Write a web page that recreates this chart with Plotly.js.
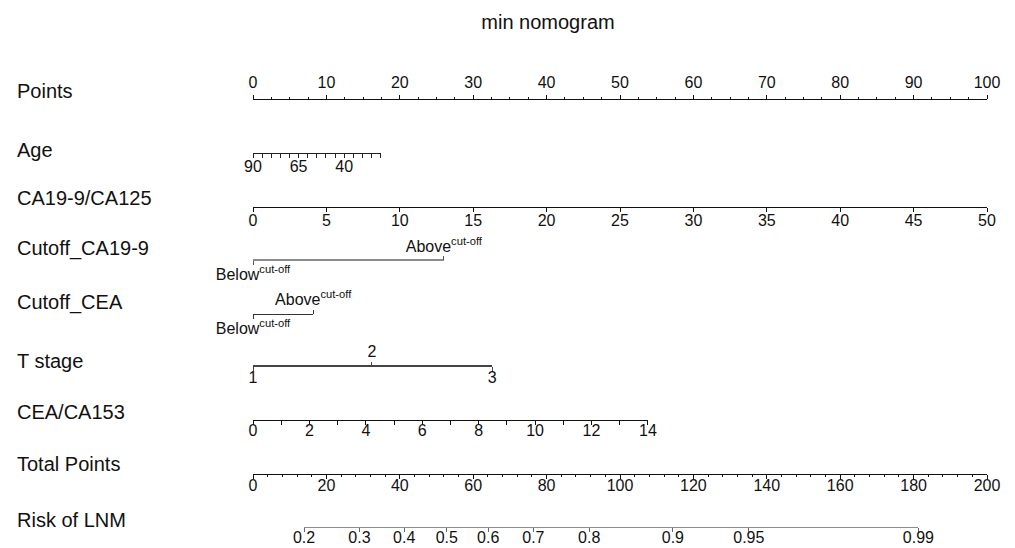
<!DOCTYPE html>
<html>
<head>
<meta charset="utf-8">
<script src="https://cdn.plot.ly/plotly-3.0.1.min.js"></script>
<style>html,body{margin:0;padding:0;background:#fff;}#chart{width:1015px;height:548px;}</style>
</head>
<body>
<div id="chart"></div>
<script>
// ---------------- data ----------------
const rowNames = ['Points','Age','CA19-9/CA125','Cutoff_CA19-9','Cutoff_CEA','T stage','CEA/CA153','Total Points','Risk of LNM'];

const pointsTickVals = [0,10,20,30,40,50,60,70,80,90,100];

const ageRange = [90, 20];            // age values at the two ends of the scale
const ageMaxPoints = 17.4;            // points given to age 20
const ageLabelVals = [90, 65, 40];

const ca199ca125Range = [0, 50];
const ca199ca125MaxPoints = 100;
const ca199ca125TickVals = [0,5,10,15,20,25,30,35,40,45,50];

const cutoffLevels = ['Below<sup>cut-off</sup>', 'Above<sup>cut-off</sup>'];
const cutoffCA199Points = [0, 26.0];
const cutoffCEAPoints = [0, 8.2];

const tStageLevels = ['1', '2', '3'];
const tStagePoints = [0, 16.2, 32.6];

const ceaCa153Range = [0, 14];
const ceaCa153MaxPoints = 53.8;
const ceaCa153TickVals = [0,2,4,6,8,10,12,14];

const totalPointsRange = [0, 200];
const totalPointsTickVals = [0,20,40,60,80,100,120,140,160,180,200];

const riskLabels = ['0.2','0.3','0.4','0.5','0.6','0.7','0.8','0.9','0.95','0.99'];
const riskTotalPoints = [13.9, 29.0, 41.2, 52.8, 64.1, 76.4, 91.6, 114.4, 135.1, 181.3];

// ---------------- layout helpers ----------------
const W = 1015, H = 548, ML = 253, MR = 28;
const FONT = 'Liberation Sans, Arial, sans-serif';
const INK = '#111';
const py = y => 1 - y / H;                  // pixel row -> paper fraction
const px = x => (x - ML) / (W - ML - MR);   // pixel col -> paper fraction

// pixel rows of each scale line
const rowLineY = { points: 99, age: 153, ca: 206.5, cutCA: 260, cutCEA: 313.5, t: 366, cea: 420, total: 474, risk: 527 };
// pixel rows of the left labels (centre)
const labelY = [91, 150, 198, 249, 302, 361, 412, 464, 519.5];

function axis(extra) {
  return Object.assign({
    anchor: 'free', showgrid: false, zeroline: false, showline: true,
    linecolor: INK, linewidth: 1, ticks: 'outside', tickcolor: INK, tickwidth: 1, ticklen: 4,
    tickfont: { family: FONT, size: 16, color: INK }, fixedrange: true,
    ticklabeloverflow: 'allow', tickmode: 'array', side: 'bottom', ticklabelstandoff: -5
  }, extra);
}

const maxTP = totalPointsRange[1];

const layout = {
  width: W, height: H,
  margin: { l: ML, r: MR, t: 0, b: 0, pad: 0 },
  paper_bgcolor: '#fff', plot_bgcolor: 'rgba(0,0,0,0)',
  showlegend: false,
  font: { family: FONT, color: INK },
  title: { text: 'min nomogram', font: { family: FONT, size: 20, color: INK },
           xref: 'container', x: 548 / W, xanchor: 'center', yref: 'container', y: 1 - 22 / H, yanchor: 'middle' },
  yaxis: { range: [0, 1], domain: [0, 1], visible: false, fixedrange: true },
  xaxis: { range: [0, 100], domain: [0, 1], visible: false, fixedrange: true },

  // Points
  xaxis2: axis({ side: 'top', domain: [0, 1], range: [0, 100], position: py(rowLineY.points), ticklabelstandoff: 1,
    tickvals: pointsTickVals, ticktext: pointsTickVals.map(String),
    minor: { tickmode: 'linear', tick0: 0, dtick: 2.5, ticks: 'outside', ticklen: 2, tickcolor: INK, tickwidth: 1 } }),
  // Age
  xaxis3: axis({ domain: [0, ageMaxPoints / 100], range: ageRange, position: py(rowLineY.age),
    linecolor: '#222', tickcolor: '#222',
    tickvals: ageLabelVals, ticktext: ageLabelVals.map(String),
    minor: { tickmode: 'linear', tick0: 0, dtick: 5, ticks: 'outside', ticklen: 4, tickcolor: '#222', tickwidth: 1 } }),
  // CA19-9/CA125
  xaxis4: axis({ domain: [0, ca199ca125MaxPoints / 100], range: ca199ca125Range, position: py(rowLineY.ca),
    tickvals: ca199ca125TickVals, ticktext: ca199ca125TickVals.map(String) }),
  // Cutoff_CA19-9 (below / above)
  xaxis5: axis({ domain: [0, cutoffCA199Points[1] / 100], range: [cutoffCA199Points[0], cutoffCA199Points[1]], position: py(rowLineY.cutCA),
    linecolor: '#8c8c8c', linewidth: 2, tickcolor: '#555', ticklabelstandoff: -4,
    tickvals: [cutoffCA199Points[0]], ticktext: [cutoffLevels[0]] }),
  xaxis6: axis({ side: 'top', showline: false, domain: [0, cutoffCA199Points[1] / 100], range: [cutoffCA199Points[0], cutoffCA199Points[1]], position: py(rowLineY.cutCA),
    tickcolor: '#555', ticklabelstandoff: -2, tickvals: [cutoffCA199Points[1]], ticktext: [cutoffLevels[1]] }),
  // Cutoff_CEA
  xaxis7: axis({ domain: [0, cutoffCEAPoints[1] / 100], range: [cutoffCEAPoints[0], cutoffCEAPoints[1]], position: py(rowLineY.cutCEA),
    linecolor: '#333', tickcolor: '#333', ticklabelstandoff: -4,
    tickvals: [cutoffCEAPoints[0]], ticktext: [cutoffLevels[0]] }),
  xaxis8: axis({ side: 'top', showline: false, domain: [0, cutoffCEAPoints[1] / 100], range: [cutoffCEAPoints[0], cutoffCEAPoints[1]], position: py(rowLineY.cutCEA),
    tickcolor: '#333', ticklabelstandoff: -2, tickvals: [cutoffCEAPoints[1]], ticktext: [cutoffLevels[1]] }),
  // T stage
  xaxis9: axis({ domain: [0, tStagePoints[2] / 100], range: [tStagePoints[0], tStagePoints[2]], position: py(rowLineY.t),
    linecolor: '#444', linewidth: 2, tickcolor: '#444', ticklabelstandoff: -7,
    tickvals: [tStagePoints[0], tStagePoints[2]], ticktext: [tStageLevels[0], tStageLevels[2]] }),
  xaxis10: axis({ side: 'top', showline: false, domain: [0, tStagePoints[2] / 100], range: [tStagePoints[0], tStagePoints[2]], position: py(rowLineY.t),
    tickcolor: '#444', ticklabelstandoff: -1, tickvals: [tStagePoints[1]], ticktext: [tStageLevels[1]] }),
  // CEA/CA153
  xaxis11: axis({ domain: [0, ceaCa153MaxPoints / 100], range: ceaCa153Range, position: py(rowLineY.cea), ticklabelstandoff: -8,
    tickvals: ceaCa153TickVals, ticktext: ceaCa153TickVals.map(String),
    minor: { tickmode: 'linear', tick0: 0, dtick: 1, ticks: 'outside', ticklen: 4, tickcolor: INK, tickwidth: 1 } }),
  // Total Points
  xaxis12: axis({ domain: [0, 1], range: totalPointsRange, position: py(rowLineY.total), ticklabelstandoff: -7,
    tickvals: totalPointsTickVals, ticktext: totalPointsTickVals.map(String),
    minor: { tickmode: 'linear', tick0: 0, dtick: 4, ticks: 'outside', ticklen: 2, tickcolor: INK, tickwidth: 1 } }),
  // Risk of LNM (placed on the total-points scale)
  xaxis13: axis({ domain: [riskTotalPoints[0] / maxTP, riskTotalPoints[riskTotalPoints.length - 1] / maxTP],
    range: [riskTotalPoints[0], riskTotalPoints[riskTotalPoints.length - 1]], position: py(rowLineY.risk),
    linecolor: '#8c8c8c', tickcolor: '#666', ticklabelstandoff: -8,
    tickvals: riskTotalPoints, ticktext: riskLabels }),

  annotations: rowNames.map((name, i) => ({
    text: name, xref: 'paper', yref: 'paper', x: px(15), y: py(labelY[i]),
    xanchor: 'left', yanchor: 'middle', showarrow: false,
    font: { family: FONT, size: 20, color: INK }
  }))
};

// one empty trace per scale so that each axis is drawn
const data = [];
for (let i = 2; i <= 13; i++) {
  data.push({ type: 'scatter', mode: 'markers', x: [null], y: [null], xaxis: 'x' + i, yaxis: 'y',
              hoverinfo: 'skip', showlegend: false });
}

Plotly.newPlot('chart', data, layout, { displayModeBar: false, staticPlot: true });
</script>
</body>
</html>
